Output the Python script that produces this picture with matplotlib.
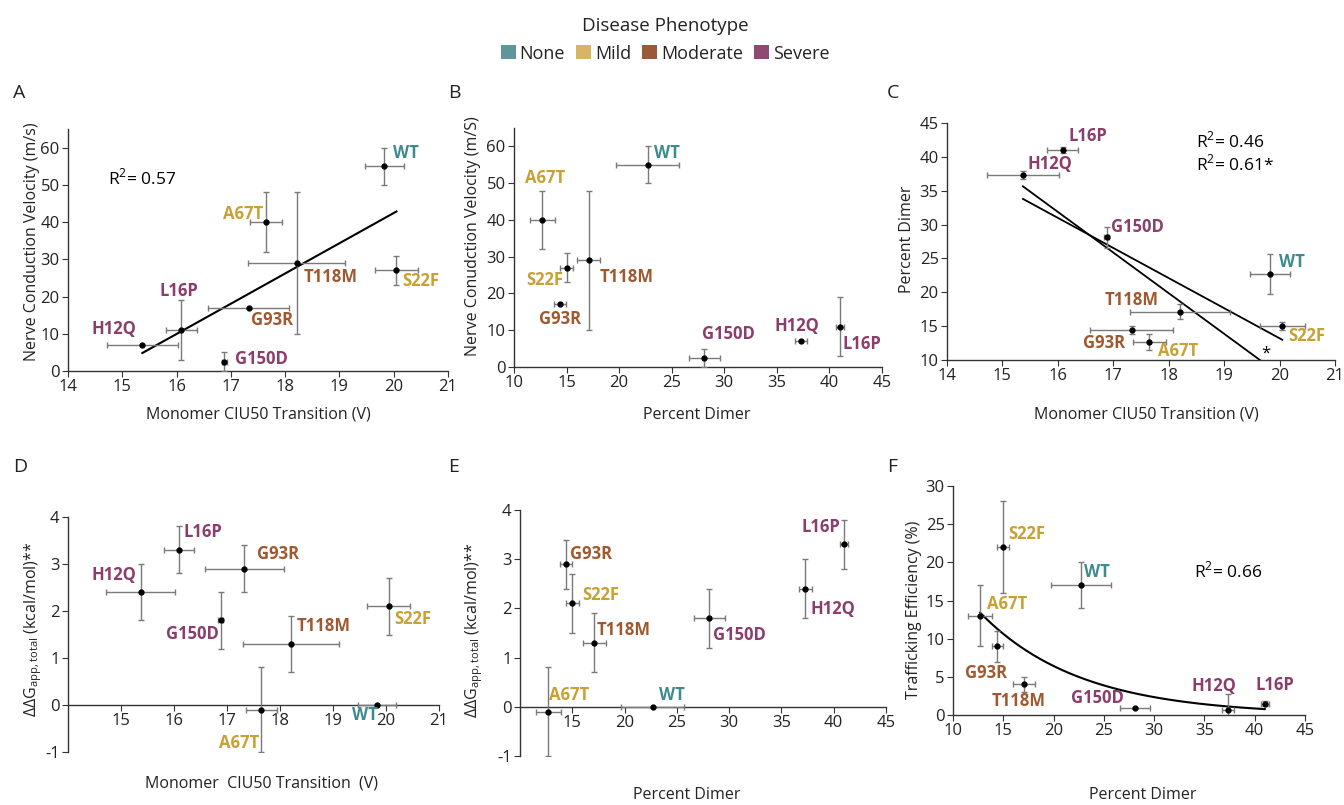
import numpy as np
import matplotlib
matplotlib.use("Agg")
import matplotlib.pyplot as plt
from matplotlib.patches import Patch

plt.rcParams['font.family'] = ['Open Sans', 'DejaVu Sans']
plt.rcParams['axes.unicode_minus'] = False

# data
variants = ['WT', 'A67T', 'S22F', 'T118M', 'G93R', 'L16P', 'H12Q', 'G150D']
phenotype = ['None', 'Mild', 'Mild', 'Moderate', 'Moderate', 'Severe', 'Severe', 'Severe']
ciu50 = [19.83, 17.65, 20.05, 18.21, 17.33, 16.09, 15.37, 16.88]
ciu50_err = [0.36, 0.30, 0.40, 0.90, 0.75, 0.28, 0.65, 0.05]
ncv = [55, 40, 27, 29, 17, 11, 7, 2.5]
ncv_err = [5, 8, 4, 19, 0, 8, 0, 2.5]
dimer = [22.7, 12.7, 15.0, 17.1, 14.4, 41.0, 37.3, 28.1]
dimer_err = [3.0, 1.2, 0.6, 1.1, 0.55, 0.4, 0.6, 1.5]
ddg = [0, -0.1, 2.1, 1.3, 2.9, 3.3, 2.4, 1.8]
ddg_err = [0, 0.9, 0.6, 0.6, 0.5, 0.5, 0.6, 0.6]
traff = [17, 13, 22, 4, 9, 1.5, 0.7, 0.9]
traff_err = [3, 4, 6, 1, 2, 0.3, 2, 0]

r2_a = "R$^\\mathregular{2}$= 0.57"
r2_c = "R$^\\mathregular{2}$= 0.46\nR$^\\mathregular{2}$= 0.61*"
r2_f = "R$^\\mathregular{2}$= 0.66"

phenos = ['None', 'Mild', 'Moderate', 'Severe']
box_col = {'None': '#5e979b', 'Mild': '#d6b566', 'Moderate': '#9a5a3a', 'Severe': '#8e4a72'}
txt_col = {'None': '#3d8a8f', 'Mild': '#c9a033', 'Moderate': '#a0582f', 'Severe': '#8b3d6b'}

W, H = 1344, 805


def rect(l, r, t, b):
    return [l / W, 1 - b / H, (r - l) / W, (b - t) / H]


# label offsets in pixels (dx, dy with y up)
offs_a = {'WT': (21, 13), 'A67T': (-23, 8), 'T118M': (34, -14), 'S22F': (24, -11),
          'G93R': (23, -12), 'L16P': (-3, 39), 'H12Q': (-28, 16), 'G150D': (37, 3)}
offs_b = {'WT': (19, 12), 'A67T': (3, 42), 'S22F': (-22, -12), 'T118M': (38, -17),
          'G93R': (0, -15), 'G150D': (24, 24), 'H12Q': (-4, 15), 'L16P': (22, -17)}
offs_c = {'L16P': (25, 14), 'H12Q': (27, 11), 'G150D': (31, 10), 'WT': (22, 12),
          'T118M': (-49, 12), 'S22F': (24, -10), 'G93R': (-28, -13), 'A67T': (29, -9)}
offs_d = {'L16P': (24, 18), 'G93R': (34, 15), 'H12Q': (-27, 17), 'S22F': (24, -13),
          'G150D': (-28, -14), 'T118M': (32, 18), 'A67T': (-22, -33), 'WT': (-12, -10)}
offs_e = {'G93R': (25, 10), 'S22F': (28, 8), 'T118M': (29, 13), 'G150D': (30, -17),
          'H12Q': (27, -20), 'L16P': (-23, 17), 'A67T': (21, 17), 'WT': (19, 12)}
offs_f = {'S22F': (23, 13), 'WT': (16, 13), 'A67T': (27, 12), 'G93R': (-11, -27),
          'T118M': (-6, -17), 'G150D': (-38, 10), 'H12Q': (-14, 24), 'L16P': (10, 19)}


def style_axes(ax, xlim, ylim, xticks, yticks, zero_spine=False):
    ax.set_xlim(*xlim)
    ax.set_ylim(*ylim)
    ax.set_xticks(xticks)
    ax.set_yticks(yticks)
    for s in ['top', 'right']:
        ax.spines[s].set_visible(False)
    for s in ['left', 'bottom']:
        ax.spines[s].set_color('#333333')
        ax.spines[s].set_linewidth(1.0)
    if zero_spine:
        ax.spines['bottom'].set_position(('data', 0))
    ax.tick_params(length=4, width=0.8, color='#333333', labelsize=12,
                   labelcolor='#222222', pad=2)


def scatter_panel(ax, x, xe, y, ye, offs):
    ax.errorbar(x, y, xerr=xe, yerr=ye, fmt='o', color='black', ms=3.5,
                ecolor='#7a7a7a', elinewidth=1.0, capsize=2, capthick=1.0, zorder=3)
    for i, v in enumerate(variants):
        dx, dy = offs[v]
        ax.annotate(v, (x[i], y[i]), xytext=(dx, dy), textcoords='offset pixels',
                    ha='center', va='center', fontsize=12, fontweight='bold',
                    color=txt_col[phenotype[i]], zorder=4)


def set_labels(ax, xl, yl, xpos, ypos):
    ax.set_xlabel(xl, fontsize=11.5, color='#222222')
    ax.set_ylabel(yl, fontsize=11.5, color='#222222')
    ax.xaxis.set_label_coords(*xpos)
    ax.yaxis.set_label_coords(*ypos)
    ax.xaxis.label.set_va('center')
    ax.yaxis.label.set_va('center')


fig = plt.figure(figsize=(13.44, 8.05), dpi=100)

ddg_label = "ΔΔG$_\\mathregular{app,total}$ (kcal/mol)**"

# A
axA = fig.add_axes(rect(68, 448, 129, 371))
style_axes(axA, (14, 21), (0, 65), range(14, 22), range(0, 61, 10))
scatter_panel(axA, ciu50, ciu50_err, ncv, ncv_err, offs_a)
k = np.polyfit(ciu50, ncv, 1)
xs = np.array([min(ciu50), max(ciu50)])
axA.plot(xs, np.polyval(k, xs), color='black', lw=1.5, zorder=2)
axA.text(0.105, 0.797, r2_a, transform=axA.transAxes, fontsize=12.5, va='center')
set_labels(axA, 'Monomer CIU50 Transition (V)', 'Nerve Conduction Velocity (m/s)',
           (0.5, -0.178), (-0.095, 0.534))

# B
axB = fig.add_axes(rect(514, 882, 128, 367))
style_axes(axB, (10, 45), (0, 65), range(10, 46, 5), range(0, 61, 10))
scatter_panel(axB, dimer, dimer_err, ncv, ncv_err, offs_b)
set_labels(axB, 'Percent Dimer', 'Nerve Conudction Velocity (m/S)',
           (0.497, -0.2), (-0.111, 0.549))

# C
axC = fig.add_axes(rect(947, 1335, 123, 360))
style_axes(axC, (14, 21), (10, 45), range(14, 22), range(10, 46, 5))
scatter_panel(axC, ciu50, ciu50_err, dimer, dimer_err, offs_c)
k_all = np.polyfit(ciu50, dimer, 1)
k_nowt = np.polyfit(ciu50[1:], dimer[1:], 1)
xs = np.array([min(ciu50), max(ciu50)])
axC.plot(xs, np.polyval(k_all, xs), color='black', lw=1.3, zorder=2)
axC.plot(xs, np.polyval(k_nowt, xs), color='black', lw=1.3, zorder=2)
axC.text(19.76, 10.9, '*', fontsize=12, ha='center', va='center')
axC.text(0.642, 0.875, r2_c, transform=axC.transAxes, fontsize=12.5, va='center',
         linespacing=1.1)
set_labels(axC, 'Monomer CIU50 Transition (V)', 'Percent Dimer',
           (0.513, -0.228), (-0.102, 0.51))

# D
axD = fig.add_axes(rect(68, 439, 517, 752))
style_axes(axD, (14, 21), (-1, 4), range(15, 22), range(-1, 5), zero_spine=True)
scatter_panel(axD, ciu50, ciu50_err, ddg, ddg_err, offs_d)
set_labels(axD, 'Monomer  CIU50 Transition  (V)', ddg_label,
           (0.522, -0.132), (-0.094, 0.52))

# E
axE = fig.add_axes(rect(520, 886, 510, 756))
style_axes(axE, (10, 45), (-1, 4), range(15, 46, 5), range(-1, 5), zero_spine=True)
scatter_panel(axE, dimer, dimer_err, ddg, ddg_err, offs_e)
set_labels(axE, 'Percent Dimer', ddg_label, (0.455, -0.159), (-0.126, 0.512))

# F
axF = fig.add_axes(rect(953, 1305, 486, 715))
style_axes(axF, (10, 45), (0, 30), range(10, 46, 5), range(0, 31, 5))
scatter_panel(axF, dimer, dimer_err, traff, traff_err, offs_f)
kf = np.polyfit(dimer, np.log(traff), 1)
xs = np.linspace(min(dimer), max(dimer), 200)
axF.plot(xs, np.exp(np.polyval(kf, xs)), color='black', lw=1.5, zorder=2)
axF.text(0.685, 0.63, r2_f, transform=axF.transAxes, fontsize=12.5, va='center')
set_labels(axF, 'Percent Dimer', 'Trafficking Efficiency (%)', (0.54, -0.35), (-0.111, 0.46))

# panel letters
for letter, (px, py) in zip('ABCDEF', [(13, 98), (448, 98), (887, 98),
                                       (13, 472), (448, 472), (887, 472)]):
    fig.text(px / W, 1 - py / H, letter, fontsize=14, color='#222222',
             ha='left', va='baseline')

# legend
handles = [Patch(facecolor=box_col[p], edgecolor='none', label=p) for p in phenos]
leg = fig.legend(handles=handles, loc='center', bbox_to_anchor=(665 / W, 1 - 40 / H),
                 ncol=4, frameon=False, fontsize=13, title='Disease Phenotype',
                 title_fontsize=13.5, handlelength=0.85, handleheight=0.85,
                 handletextpad=0.2, columnspacing=0.6, borderaxespad=0)
for t in leg.get_texts():
    t.set_color('#222222')
leg.get_title().set_color('#222222')

fig.savefig('out.png', dpi=100)
